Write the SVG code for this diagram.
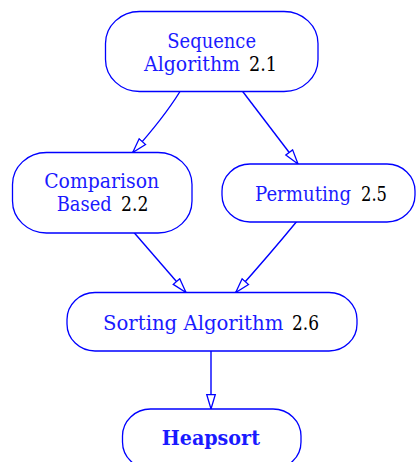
<svg xmlns="http://www.w3.org/2000/svg" width="419" height="462" viewBox="0 0 419 462">
<style>
.node{fill:#fff;stroke:#0000ff;stroke-width:1.3}
.lbl{font-family:'DejaVu Serif','Liberation Serif',serif;font-size:20px;fill:#1a1aff}
.num{fill:#000}
.bold{font-weight:bold}
.edge{fill:none;stroke:#0000ff;stroke-width:1.4;marker-end:url(#arr)}
</style>
<defs>
<marker id="arr" markerUnits="userSpaceOnUse" markerWidth="18" markerHeight="12" refX="15.5" refY="5.5" orient="auto">
<path d="M1,1.2 L15.5,5.5 L1,9.8 Z" fill="#fff" stroke="#0000ff" stroke-width="1.3"/>
</marker>
</defs>
<rect width="419" height="462" fill="#fff"/>
<g id="edges">
<path class="edge" d="M180,91.5 Q163.6,118 132.7,152.5"/>
<path class="edge" d="M242.7,91.5 L298,164"/>
<path class="edge" d="M134,232.5 L186,292.5"/>
<path class="edge" d="M296.7,221.5 Q270,254 235.7,292.5"/>
<path class="edge" d="M211,351 L211,409"/>
</g>
<g id="n1">
<rect class="node" x="105.5" y="11.5" width="212.5" height="80" rx="34" ry="32"/>
<text class="lbl" x="167.3" y="47.7" textLength="88.7" lengthAdjust="spacingAndGlyphs">Sequence</text>
<text class="lbl" x="144" y="71" textLength="96" lengthAdjust="spacingAndGlyphs">Algorithm</text>
<text class="lbl num" x="249" y="71" textLength="28" lengthAdjust="spacingAndGlyphs">2.1</text>
</g>
<g id="n2">
<rect class="node" x="12.5" y="152.5" width="179.5" height="80.5" rx="34" ry="32"/>
<text class="lbl" x="44.2" y="187.7" textLength="115" lengthAdjust="spacingAndGlyphs">Comparison</text>
<text class="lbl" x="56.7" y="211" textLength="55" lengthAdjust="spacingAndGlyphs">Based</text>
<text class="lbl num" x="121" y="211" textLength="27.3" lengthAdjust="spacingAndGlyphs">2.2</text>
</g>
<g id="n3">
<rect class="node" x="222" y="164" width="193" height="58" rx="28" ry="27"/>
<text class="lbl" x="255" y="200.7" textLength="96" lengthAdjust="spacingAndGlyphs">Permuting</text>
<text class="lbl num" x="361" y="200.7" textLength="26" lengthAdjust="spacingAndGlyphs">2.5</text>
</g>
<g id="n4">
<rect class="node" x="67" y="292.5" width="290" height="58.5" rx="28" ry="27"/>
<text class="lbl" x="103" y="330" textLength="180.3" lengthAdjust="spacingAndGlyphs">Sorting Algorithm</text>
<text class="lbl num" x="292" y="330" textLength="27" lengthAdjust="spacingAndGlyphs">2.6</text>
</g>
<g id="n5">
<rect class="node" x="122.5" y="409" width="178.5" height="60" rx="28" ry="27"/>
<text class="lbl bold" x="161.7" y="445" textLength="98.3" lengthAdjust="spacingAndGlyphs">Heapsort</text>
</g>
</svg>
